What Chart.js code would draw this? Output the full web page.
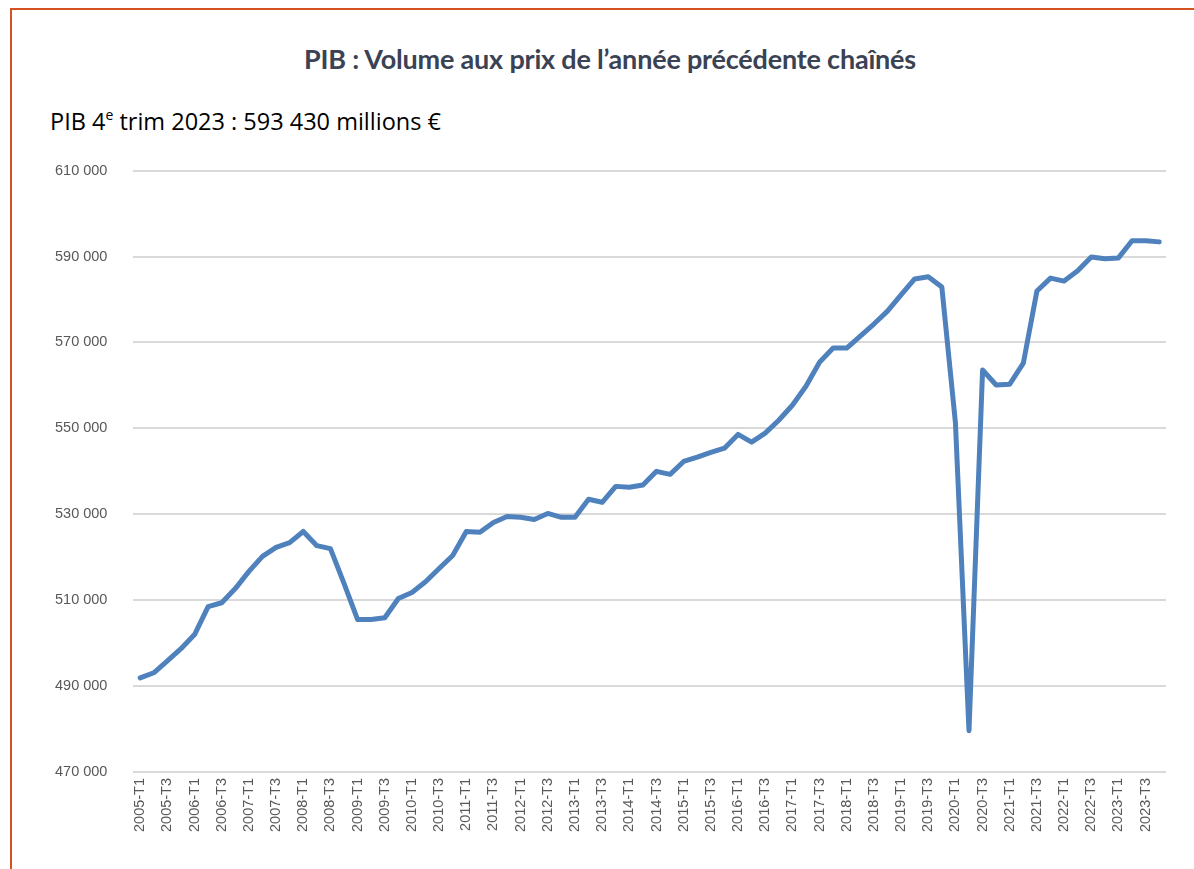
<!DOCTYPE html>
<html lang="fr">
<head>
<meta charset="UTF-8">
<title>PIB : Volume aux prix de l'année précédente chaînés</title>
<script src="https://cdn.jsdelivr.net/npm/chart.js"></script>
<style>
    html, body { margin: 0; padding: 0; background: #fff; width: 1194px; height: 869px; overflow: hidden; }
    #frame {
        position: absolute; left: 10px; top: 8px; width: 1300px; height: 1000px;
        border-top: 2px solid #d4521f; border-left: 2px solid #d4521f;
    }
    #title {
        position: absolute; left: 0; top: 42px; width: 1220px; text-align: center;
        font-family: Lato, sans-serif; font-weight: bold; font-size: 27px; color: #3a4253;
        letter-spacing: -0.2px;
    }
    #subtitle {
        position: absolute; left: 50px; top: 105px;
        font-family: "Open Sans", sans-serif; font-size: 23.5px; color: #000;
    }
    #subtitle sup { font-size: 14px; vertical-align: 10px; line-height: 0; }
    #chartBox { position: absolute; left: 0; top: 136px; width: 1194px; height: 733px; }
</style>
</head>
<body>
<div id="frame"></div>
<div id="title">PIB : Volume aux prix de l’année précédente chaînés</div>
<div id="subtitle">PIB 4<sup>e</sup> trim 2023 : 593 430 millions €</div>
<div id="chartBox"><canvas id="pibChart"></canvas></div>

<script>
    // quarters 2005-T1 .. 2023-T4
    const years = [2005, 2006, 2007, 2008, 2009, 2010, 2011, 2012, 2013, 2014,
        2015, 2016, 2017, 2018, 2019, 2020, 2021, 2022, 2023];
    const quarters = ['T1', 'T2', 'T3', 'T4'];

    // PIB en volume, millions d'euros
    const pib = [
        491900, 493100, 495900, 498700,   // 2005
        502000, 508500, 509400, 512700,   // 2006
        516700, 520200, 522300, 523400,   // 2007
        526000, 522700, 522000, 513900,   // 2008
        505500, 505500, 505900, 510400,   // 2009
        511800, 514300, 517400, 520400,   // 2010
        526000, 525800, 528100, 529500,   // 2011
        529300, 528800, 530200, 529300,   // 2012
        529300, 533500, 532800, 536500,   // 2013
        536300, 536800, 540000, 539300,   // 2014
        542300, 543300, 544400, 545400,   // 2015
        548600, 546800, 548900, 551900,   // 2016
        555400, 559800, 565400, 568700,   // 2017
        568700, 571500, 574300, 577300,   // 2018
        581100, 584800, 585300, 582900,   // 2019
        551400, 479600, 563600, 560100,   // 2020
        560300, 565200, 582000, 585000,   // 2021
        584300, 586700, 589900, 589500,   // 2022
        589700, 593700, 593700, 593430    // 2023
    ];

    const yMin = 470000, yMax = 610000, yStep = 20000;

    let labels = [];
    years.forEach(function (y) {
        quarters.forEach(function (q) { labels.push(y + '-' + q); });
    });

    function fmt(v) {
        return String(v).replace(/\B(?=(\d{3})+(?!\d))/g, ' ');
    }

    new Chart(document.getElementById('pibChart'), {
        type: 'line',
        data: {
            labels: labels,
            datasets: [{
                label: 'PIB',
                data: pib,
                borderColor: '#4f81bd',
                borderWidth: 5,
                pointRadius: 0,
                tension: 0,
                borderJoinStyle: 'round',
                borderCapStyle: 'round'
            }]
        },
        options: {
            responsive: true,
            maintainAspectRatio: false,
            animation: false,
            layout: { padding: { left: 29, right: 28, top: 8, bottom: 31 } },
            plugins: { legend: { display: false }, tooltip: { enabled: false } },
            scales: {
                x: {
                    offset: true,
                    grid: { display: false, drawTicks: false },
                    border: { display: false },
                    ticks: {
                        autoSkip: false,
                        minRotation: 90,
                        maxRotation: 90,
                        padding: 6,
                        color: '#595959',
                        font: { family: 'Liberation Sans', size: 14.5 },
                        callback: function (val, i) { return i % 2 === 0 ? labels[i] : ''; }
                    }
                },
                y: {
                    min: yMin,
                    max: yMax,
                    grid: { color: '#d9d9d9', lineWidth: 2, drawTicks: false },
                    border: { display: false },
                    ticks: {
                        stepSize: yStep,
                        padding: 26,
                        color: '#595959',
                        font: { family: 'Liberation Sans', size: 14.5 },
                        callback: function (v) { return fmt(v); }
                    }
                }
            }
        }
    });
</script>
</body>
</html>
